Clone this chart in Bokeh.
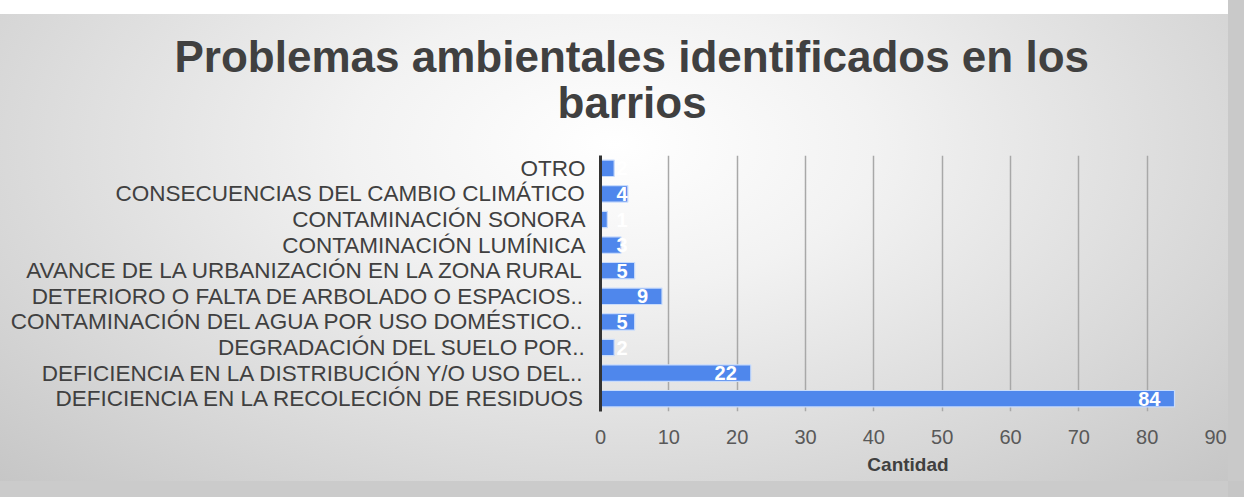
from bokeh.plotting import figure
from bokeh.models import ColumnDataSource, Range1d, FactorRange, Title, SingleIntervalTicker, LabelSet
from bokeh.core.properties import value
from bokeh.embed import file_html
from bokeh.resources import INLINE

categories = [
    "OTRO",
    "CONSECUENCIAS DEL CAMBIO CLIMÁTICO",
    "CONTAMINACIÓN SONORA",
    "CONTAMINACIÓN LUMÍNICA",
    "AVANCE DE LA URBANIZACIÓN EN LA ZONA RURAL",
    "DETERIORO O FALTA DE ARBOLADO O ESPACIOS..",
    "CONTAMINACIÓN DEL AGUA POR USO DOMÉSTICO..",
    "DEGRADACIÓN DEL SUELO POR..",
    "DEFICIENCIA EN LA DISTRIBUCIÓN Y/O USO DEL..",
    "DEFICIENCIA EN LA RECOLECIÓN DE RESIDUOS",
]
values = [2, 4, 1, 3, 5, 9, 5, 2, 22, 84]
title_lines = ["Problemas ambientales identificados en los", "barrios"]
x_label = "Cantidad"

label_x = [max(v, 6) for v in values]
src = ColumnDataSource(dict(cat=categories, val=values, lx=label_x,
                            txt=[str(v) for v in values]))

p = figure(width=1228, height=481, output_backend="svg", toolbar_location=None,
           y_range=FactorRange(factors=list(reversed(categories))),
           x_range=Range1d(0, 90), title=None)
p.styles = {
    "background": "linear-gradient(#ffffff 0px, #ffffff 14px, transparent 14px), "
                  "radial-gradient(ellipse at 50% 30%, #ffffff 0%, #f2f2f2 30%, #d6d6d6 75%, #c6c6c6 100%)",
    "box-shadow": "16px 0 0 0 #c9c9c9, 0 16px 0 0 #cbcbcb, 16px 16px 0 0 #c6c6c6",
}
p.border_fill_alpha = 0
p.background_fill_alpha = 0
p.outline_line_color = None
p.min_border_left = 600
p.min_border_right = 13
p.min_border_top = 155
p.min_border_bottom = 70

# titles (bottom line added first so it sits nearest the frame)
for t, off, so in [(title_lines[1], -43, 58), (title_lines[0], -426, -68)]:
    tt = Title(text=t, align="left", text_font="Liberation Sans", text_font_size="44px",
               text_font_style="bold", text_color="#404040", offset=off, standoff=so)
    p.add_layout(tt, "above")

p.hbar(y="cat", right="val", left=0, height=0.64, source=src,
       fill_color="#4f87ec", line_color="#c9dcfb", line_width=1.2)

labels = LabelSet(x="lx", y="cat", text="txt", source=src, x_offset=-14,
                  text_align="right", text_baseline="middle",
                  text_font=value("Liberation Sans"), text_font_size=value("20px"),
                  text_font_style="bold", text_color="white")
p.add_layout(labels)

p.xaxis.ticker = SingleIntervalTicker(interval=10)
p.xaxis.axis_line_color = None
p.xaxis.major_tick_line_color = None
p.xaxis.minor_tick_line_color = None
p.xaxis.major_label_text_font = "Liberation Sans"
p.xaxis.major_label_text_font_size = "20px"
p.xaxis.major_label_text_color = "#595959"
p.xaxis.major_label_standoff = 12
p.xaxis.axis_label = x_label
p.xaxis.axis_label_text_font = "Liberation Sans"
p.xaxis.axis_label_text_font_size = "19px"
p.xaxis.axis_label_text_font_style = "bold"
p.xaxis.axis_label_text_color = "#404040"
p.xaxis.axis_label_standoff = 7

p.yaxis.axis_line_color = "#333333"
p.yaxis.axis_line_width = 3
p.yaxis.major_tick_line_color = None
p.yaxis.minor_tick_line_color = None
p.yaxis.major_label_text_font = "Liberation Sans"
p.yaxis.major_label_text_font_size = "22.5px"
p.yaxis.major_label_text_color = "#404040"
p.yaxis.major_label_standoff = 9

p.xgrid.grid_line_color = "#a8a8a8"
p.xgrid.grid_line_width = 1.5
p.ygrid.grid_line_color = None

open("out.html", "w").write(file_html(p, INLINE))
